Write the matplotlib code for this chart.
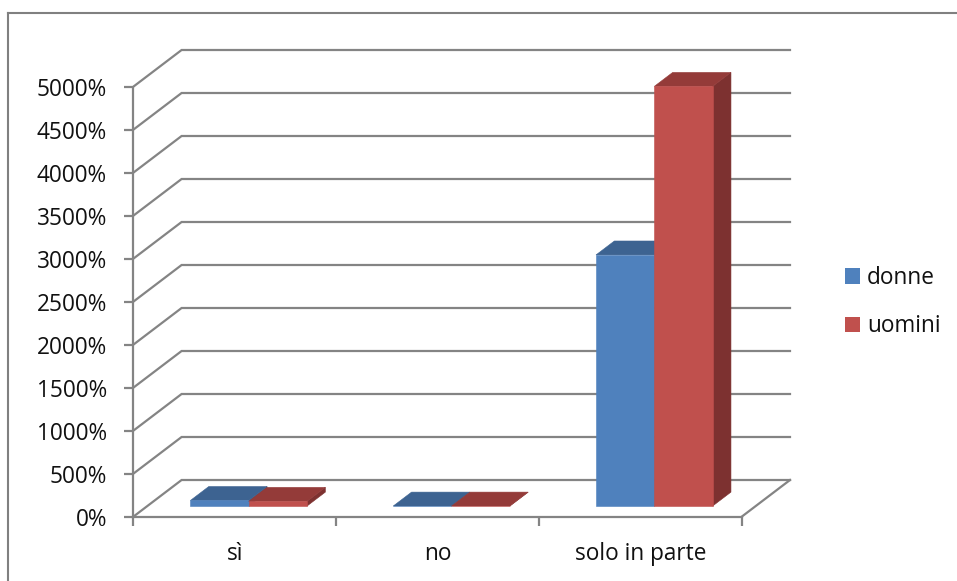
import matplotlib
matplotlib.use("Agg")
import matplotlib.pyplot as plt
from matplotlib.patches import Polygon, Patch
from matplotlib.lines import Line2D

# --- data -------------------------------------------------------------
categories = ["sì", "no", "solo in parte"]
series_names = ["donne", "uomini"]
donne = [65, 0, 2920]      # percent
uomini = [55, 0, 4880]     # percent
y_ticks = list(range(0, 5001, 500))

# --- style ------------------------------------------------------------
FONT = "Open Sans"
GRID = "#848484"
face_colors = {
    "donne": ("#4F81BD", "#3D6391", "#385A85"),   # front, top, side
    "uomini": ("#C0504D", "#943B39", "#7D3130"),
}

W_PX, H_PX, DPI = 957, 581, 100
fig = plt.figure(figsize=(W_PX / DPI, H_PX / DPI), dpi=DPI)
fig.patch.set_facecolor("white")

# pixel scale of the front plane
px_per_cat = 202.8
px_per_pct = 430.0 / 5000.0
x0_px, y0_px = 133.3, 516.7
xmax, ymax = 3.3, 5500

ax = fig.add_axes([x0_px / W_PX,
                   (H_PX - y0_px) / H_PX,
                   xmax * px_per_cat / W_PX,
                   ymax * px_per_pct / H_PX])
ax.set_xlim(0, xmax)
ax.set_ylim(0, ymax)
ax.set_facecolor("none")

# oblique depth vector of the floor (in data units)
DX = 48.3 / px_per_cat
DY = 36.7 / px_per_pct
n = len(categories)

# back wall gridlines: left-wall diagonal + back horizontal
for v in y_ticks:
    ax.plot([0, DX, n + DX], [v, v + DY, v + DY], color=GRID, lw=1.6,
            solid_joinstyle="miter", zorder=1)
# right edge of the floor
ax.plot([n + DX, n], [DY, 0], color=GRID, lw=1.6, zorder=1)

# --- 3D columns -------------------------------------------------------
bar_w = 58.3 / px_per_cat
front_depth = 0.29
bar_depth = 0.38
ddx, ddy = bar_depth * DX, bar_depth * DY


def draw_bar(x, v, colors, z):
    front, top, side = colors
    bx = x + front_depth * DX
    by = front_depth * DY
    side_poly = [(bx + bar_w, by), (bx + bar_w + ddx, by + ddy),
                 (bx + bar_w + ddx, by + v + ddy), (bx + bar_w, by + v)]
    top_poly = [(bx, by + v), (bx + bar_w, by + v),
                (bx + bar_w + ddx, by + v + ddy), (bx + ddx, by + v + ddy)]
    front_poly = [(bx, by), (bx + bar_w, by), (bx + bar_w, by + v), (bx, by + v)]
    for poly, c, dz in ((side_poly, side, 0), (top_poly, top, 0.1),
                        (front_poly, front, 0.2)):
        ax.add_patch(Polygon(poly, closed=True, facecolor=c, edgecolor=c,
                             lw=0.4, zorder=z + dz))


for i in range(n):
    center = i + 0.5
    draw_bar(center - bar_w, donne[i], face_colors["donne"], 3 + i)
    draw_bar(center, uomini[i], face_colors["uomini"], 3.5 + i)

# --- axes -------------------------------------------------------------
for s in ("top", "right"):
    ax.spines[s].set_visible(False)
for s in ("left", "bottom"):
    ax.spines[s].set_color(GRID)
    ax.spines[s].set_linewidth(1.6)
    ax.spines[s].set_zorder(2)
ax.spines["left"].set_bounds(0, 5000)
ax.spines["bottom"].set_bounds(0, n)

ax.set_yticks(y_ticks)
ax.set_yticklabels([f"{v}%" for v in y_ticks], fontfamily=FONT, fontsize=16.3)
ax.set_xticks(range(n + 1))
ax.set_xticklabels([""] * (n + 1))
ax.tick_params(axis="both", direction="out", length=6.5, width=1.6,
               color=GRID, labelcolor="#111111")
ax.tick_params(axis="y", pad=12.5)

label_y = -(560 - y0_px) / px_per_pct
for i, cat in enumerate(categories):
    ax.text(i + 0.5, label_y, cat, ha="center", va="baseline",
            fontfamily=FONT, fontsize=16.3, color="#111111", clip_on=False)

# --- legend -----------------------------------------------------------
handles = [Patch(facecolor=face_colors[s][0], edgecolor="none") for s in series_names]
leg = fig.legend(handles, series_names, loc="center left",
                 bbox_to_anchor=(845 / W_PX, 1 - 302 / H_PX),
                 frameon=False, borderpad=0, borderaxespad=0,
                 handlelength=0.68, handleheight=0.68, handletextpad=0.3,
                 labelspacing=1.08, prop={"family": FONT, "size": 16.3})
for t in leg.get_texts():
    t.set_color("#111111")

# --- outer chart frame ------------------------------------------------
fig.add_artist(Line2D([8 / W_PX, 8 / W_PX], [0, 1 - 13 / H_PX],
                      transform=fig.transFigure, color="#808080", lw=1.5))
fig.add_artist(Line2D([8 / W_PX, 1], [1 - 13 / H_PX, 1 - 13 / H_PX],
                      transform=fig.transFigure, color="#808080", lw=1.5))

fig.savefig("out.png", dpi=DPI, facecolor="white")
